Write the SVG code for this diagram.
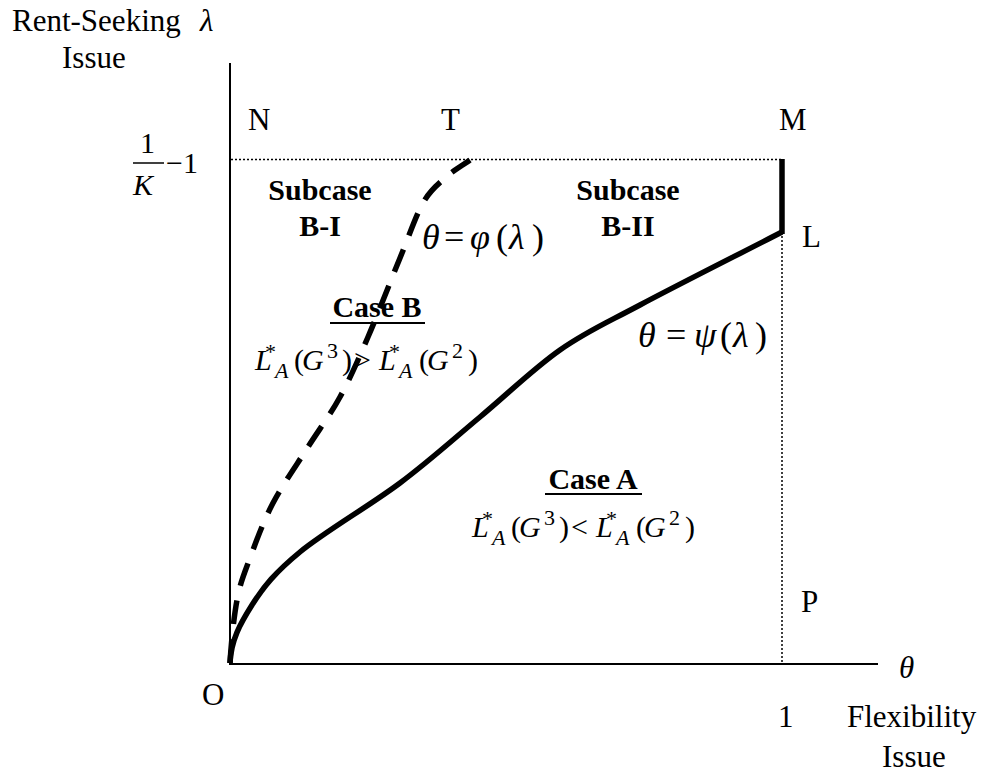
<svg xmlns="http://www.w3.org/2000/svg" width="987" height="776" viewBox="0 0 987 776">
<style>
text{font-family:"Liberation Serif","Times New Roman",serif;fill:#000}
.lbl{font-size:31px}
.it{font-style:italic}
.b{font-weight:bold;font-size:30px}
.eq{font-size:36px}
.f{font-size:30px}
.s{font-size:22px}
.ax{stroke:#000;stroke-width:2;fill:none}
.dot{stroke:#000;stroke-width:1.5;stroke-dasharray:2 2;fill:none}
.thick{stroke:#000;stroke-width:5.5;fill:none;stroke-linecap:butt}
</style>
<defs>
<g id="fl">
<text class="f it" x="0" y="0">L</text>
<text class="s" x="10" y="-11">*</text>
<text class="s it" x="20" y="8">A</text>
<text class="f" x="39" y="0">(</text>
<text class="f it" x="47" y="0">G</text>
<text class="s" x="72" y="-12">3</text>
<text class="f" x="87" y="0">)</text>
<text class="f it" x="124" y="0">L</text>
<text class="s" x="134" y="-11">*</text>
<text class="s it" x="144" y="8">A</text>
<text class="f" x="164" y="0">(</text>
<text class="f it" x="172" y="0">G</text>
<text class="s" x="197" y="-12">2</text>
<text class="f" x="213" y="0">)</text>
</g>
</defs>
<g id="axes">
<line class="ax" x1="230" y1="63" x2="230" y2="664"/>
<line class="ax" x1="229" y1="664" x2="878" y2="664"/>
</g>
<g id="connectors">
<line class="dot" x1="231" y1="159.5" x2="782" y2="159.5"/>
<line class="dot" x1="782" y1="160" x2="782" y2="663"/>
<line class="thick" x1="782" y1="159" x2="782" y2="234"/>
<path id="psi" class="thick" d="M230,663 C231,640 240.3,623.5 252,605 C263.7,586.5 275.3,572.3 300,552 C324.7,531.7 370,505.5 400,483 C430,460.5 453.3,439.2 480,417 C506.7,394.8 533.3,368.7 560,350 C586.7,331.3 603,324.7 640,305 C677,285.3 734.7,256.3 782,232"/>
<path id="phi" class="thick" stroke-dasharray="24 15" d="M230,663 C231,645 233.7,617.5 237,600 C240.3,582.5 244,574.2 250,558 C256,541.8 263.3,521.5 273,503 C282.7,484.5 296.8,464.7 308,447 C319.2,429.3 330,415.3 340,397 C350,378.7 358,360.2 368,337 C378,313.8 390.8,280.3 400,258 C409.2,235.7 415.5,216.3 423,203 C430.5,189.7 437.2,185.2 445,178 C452.8,170.8 461.7,166 470,160"/>
</g>
<g id="axis-labels">
<text class="lbl" x="12" y="31">Rent-Seeking</text>
<text class="lbl it" x="200" y="31">λ</text>
<text class="lbl" x="62" y="68">Issue</text>
<text class="f" x="140" y="153">1</text>
<line x1="133" y1="163" x2="164" y2="163" stroke="#000" stroke-width="1.5"/>
<text class="f it" x="133" y="195">K</text>
<text class="f" x="166" y="173">−1</text>
<text class="lbl it" x="899" y="678">θ</text>
<text class="lbl" x="778" y="727">1</text>
<text class="lbl" x="847" y="727">Flexibility</text>
<text class="lbl" x="882" y="767">Issue</text>
</g>
<g id="points">
<text class="lbl" x="248" y="130">N</text>
<text class="lbl" x="441" y="130">T</text>
<text class="lbl" x="779" y="130">M</text>
<text class="lbl" x="802" y="247">L</text>
<text class="lbl" x="801" y="612">P</text>
<text class="lbl" x="202" y="705">O</text>
</g>
<g id="subcase-b1">
<text class="b" x="320" y="200" text-anchor="middle">Subcase</text>
<text class="b" x="320" y="236" text-anchor="middle">B-I</text>
</g>
<g id="subcase-b2">
<text class="b" x="628" y="200" text-anchor="middle">Subcase</text>
<text class="b" x="628" y="236" text-anchor="middle">B-II</text>
</g>
<g id="eq-phi">
<text class="eq it" x="422" y="249">θ</text>
<text class="eq" x="444" y="249">=</text>
<text class="eq it" x="470" y="249">φ</text>
<text class="eq" x="496" y="249">(</text>
<text class="eq it" x="509" y="249">λ</text>
<text class="eq" x="532" y="249">)</text>
</g>
<g id="eq-psi">
<text class="eq it" x="638" y="347">θ</text>
<text class="eq" x="666" y="347">=</text>
<text class="eq it" x="694" y="347">ψ</text>
<text class="eq" x="720" y="347">(</text>
<text class="eq it" x="733" y="347">λ</text>
<text class="eq" x="755" y="347">)</text>
</g>
<g id="case-b">
<text class="b" x="377" y="317" text-anchor="middle">Case B</text>
<line x1="330" y1="323" x2="425" y2="323" stroke="#000" stroke-width="2"/>
<use href="#fl" transform="translate(255,370)"/>
<text class="f" x="354" y="370">&gt;</text>
</g>
<g id="case-a">
<text class="b" x="593" y="489" text-anchor="middle">Case A</text>
<line x1="545" y1="494" x2="642" y2="494" stroke="#000" stroke-width="2"/>
<use href="#fl" transform="translate(472,537)"/>
<text class="f" x="571" y="537">&lt;</text>
</g>
</svg>
